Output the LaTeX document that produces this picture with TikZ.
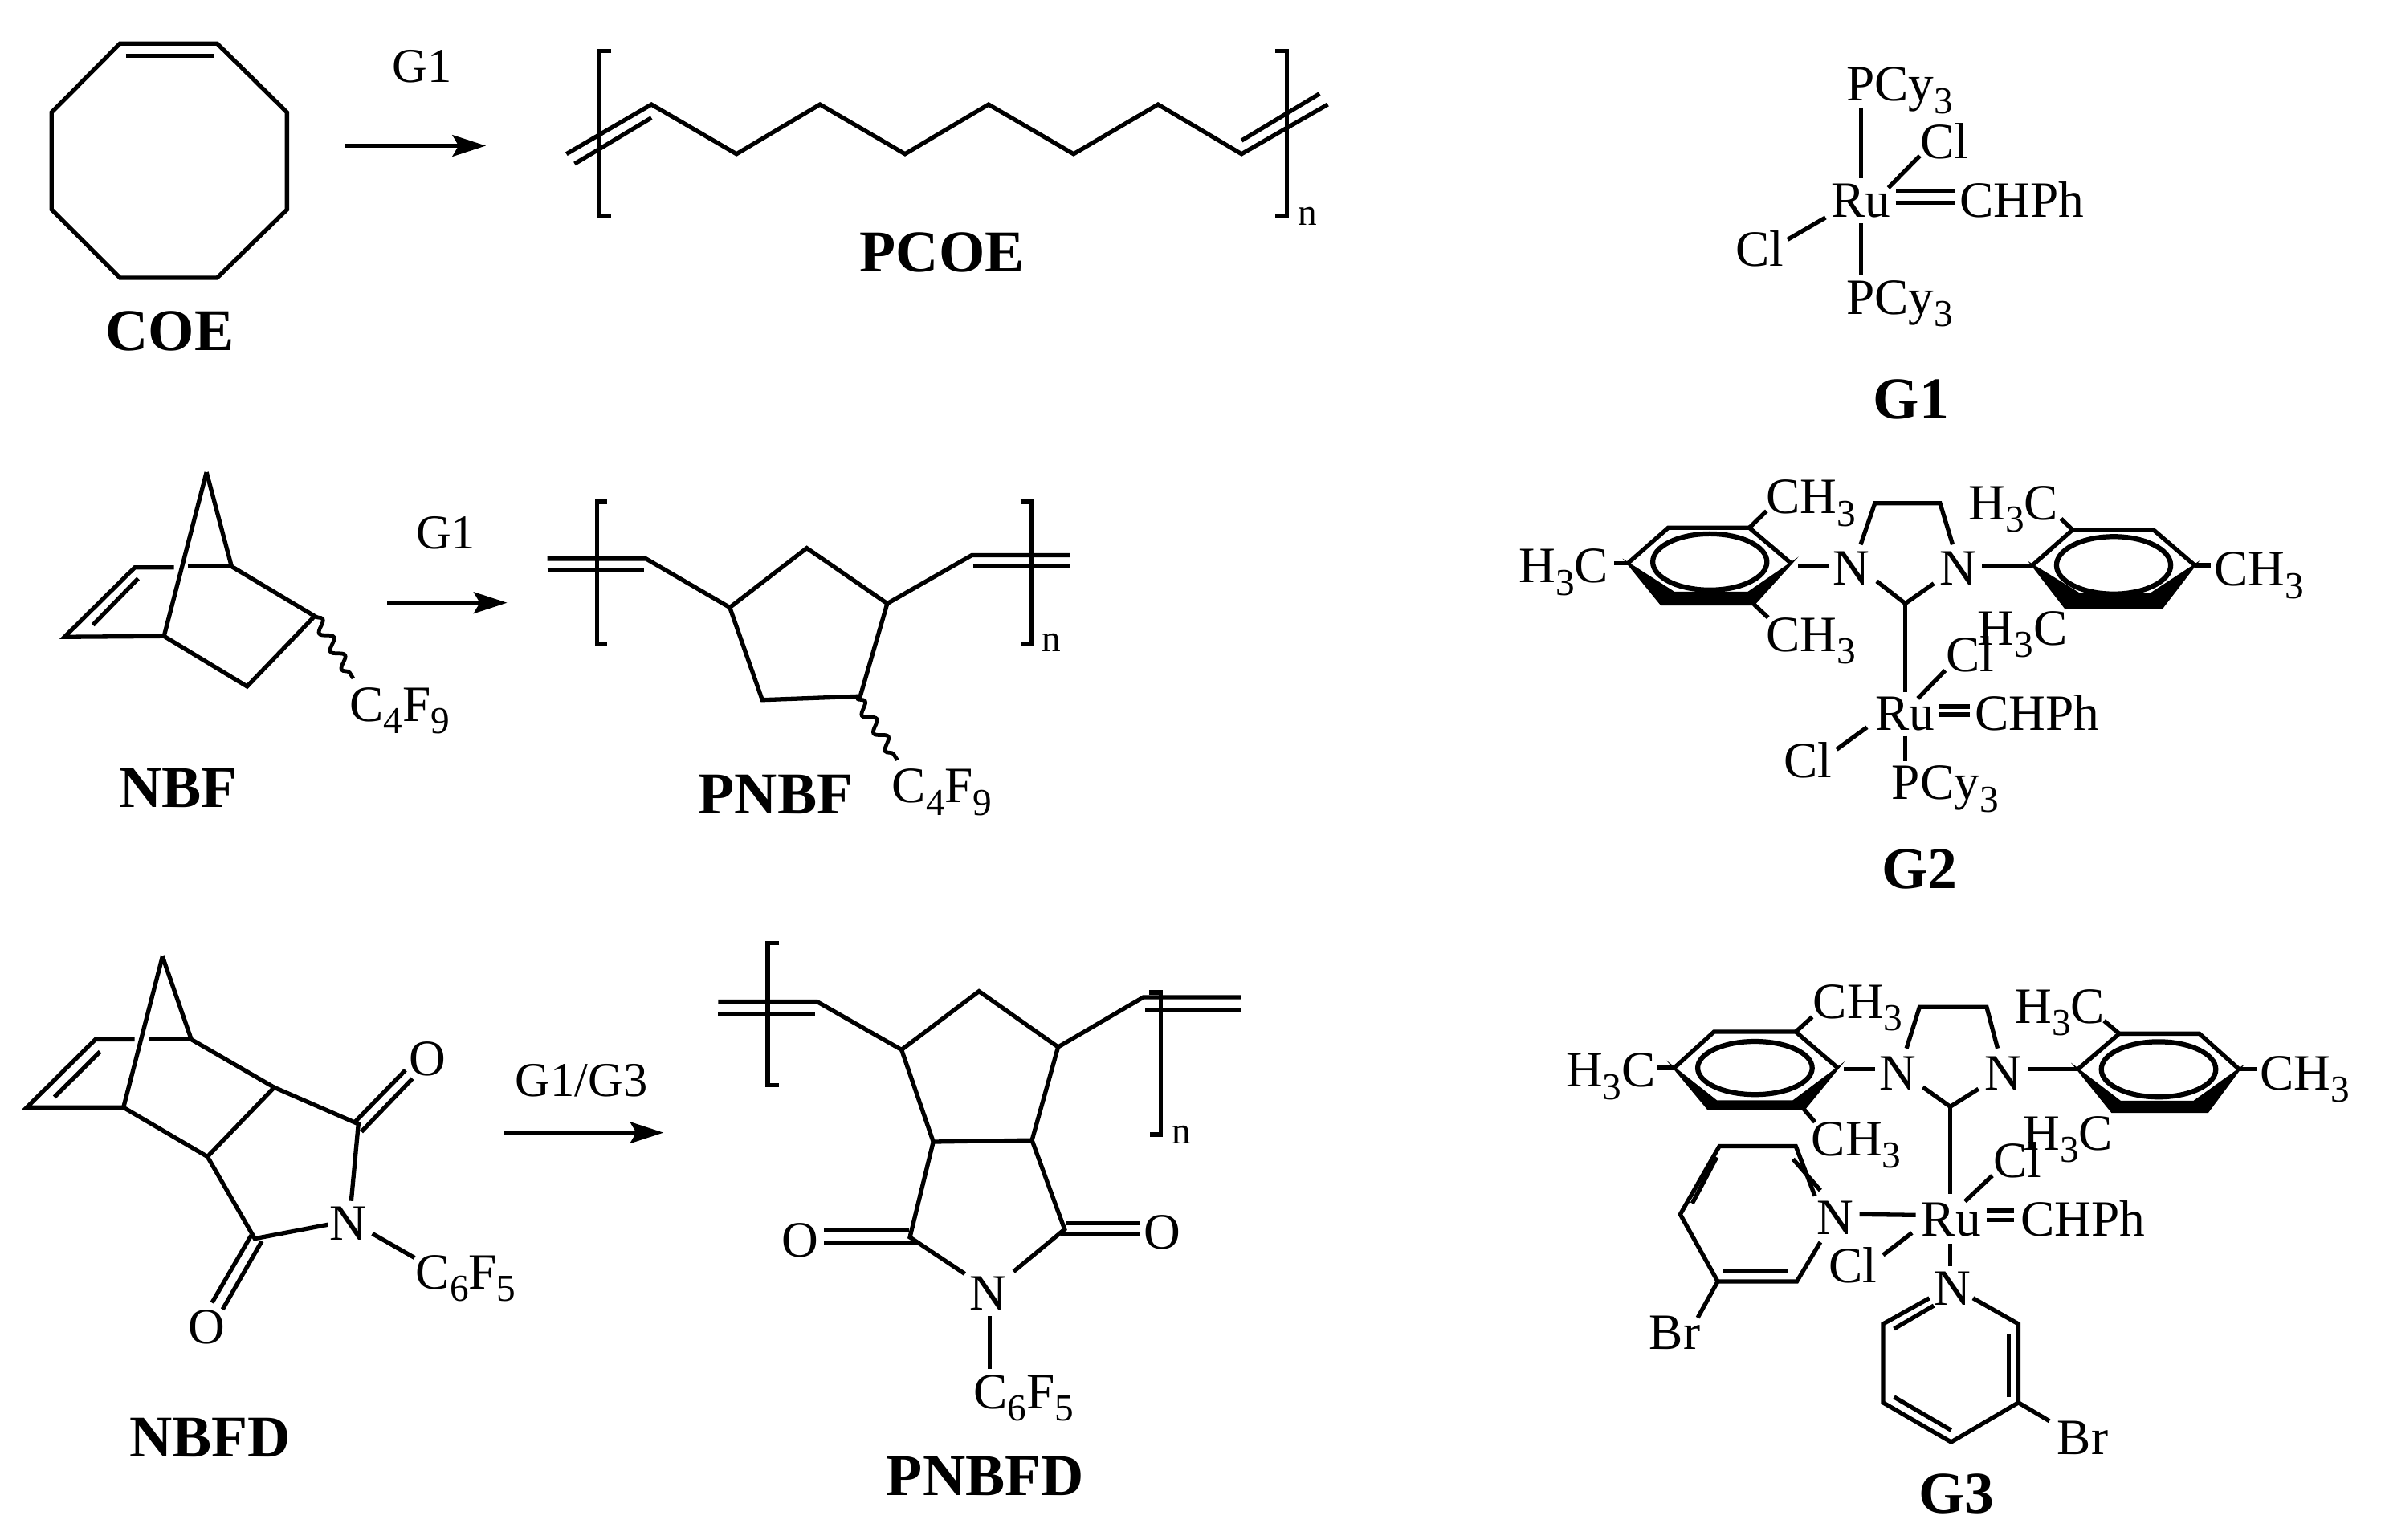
\documentclass[tikz,border=0pt]{standalone}
\usepackage{fontspec}
\setmainfont{Liberation Serif}
\usetikzlibrary{arrows.meta,decorations.pathmorphing}
\newcommand\subs[1]{\raisebox{-8pt}{\fontsize{25}{25}\selectfont #1}}
\tikzset{
  bond/.style={line width=2.8pt,line join=miter,line cap=butt},
  brk/.style={line width=2.8pt,line join=miter},
  atom/.style={inner sep=0pt,anchor=base,font=\fontsize{33.5}{33.5}\selectfont},
  agent/.style={inner sep=0pt,anchor=base,font=\fontsize{32}{32}\selectfont},
  title/.style={inner sep=0pt,anchor=base,font=\fontsize{39}{39}\selectfont\bfseries},
  sub-n/.style={inner sep=0pt,anchor=base,font=\fontsize{25}{25}\selectfont},
  rxn/.style={line width=2.8pt,-{Stealth[length=22pt,width=14pt,inset=4pt]}},
  wave/.style={line width=2.5pt,decorate,decoration={snake,segment length=14pt,amplitude=3.5pt}},
  arene/.style={line width=3.3pt,fill=white,draw=black},
  shade/.style={fill=black,draw=black,line width=1.5pt,line join=miter}
}
\begin{document}
\begin{tikzpicture}[x=1pt,y=-1pt]
\useasboundingbox (0,0) rectangle (1568,1013.8);
% ---------- COE
\draw[bond] (79,28.7)--(143,28.7)--(189,74)--(189,138)--(143,183)--(79,183)--(34,138)--(34,74)--cycle;
\draw[bond] (83,36.7)--(140.5,36.7);
\node[title] (coe) at (111.8,231) {COE};
\coordinate (a1s) at (227.6,96); \coordinate (a1e) at (320,96);
\draw[rxn] (a1s)--(a1e);
\node[agent] (g1a) at (278,54.3) {G1};
% ---------- PCOE
\draw[brk] (402.5,33.5)--(394.5,33.5)--(394.5,142.5)--(402.5,142.5);
\draw[brk] (840,33.5)--(847.5,33.5)--(847.5,142.5)--(840,142.5);
\node[sub-n] (n1) at (861,148.1) {n};
\draw[bond] (373,101.4)--(429,68.8)--(485,101.4)--(540,68.8)--(596,101.4)--(651,68.8)--(707,101.4)--(762.6,68.8)--(817.6,101.4)--(874.4,68.8);
\draw[bond] (378.4,107.9)--(429,77.6);
\draw[bond] (817.6,92.6)--(869,61.7);
\node[title] (pcoe) at (620.5,179) {PCOE};
% ---------- NBF
\draw[bond] (136,311)--(108,419)--(42.5,419.5)--(88.8,373.7)--(114.6,373.7);
\draw[bond] (123.5,373.1)--(152.5,373.1);
\draw[bond] (136,311)--(152.5,373.1)--(207.2,405.8)--(162.7,452.1)--(108,419);
\draw[bond] (91,381)--(61.2,411.6);
\draw[wave] (207.2,405.8)--(232.6,446.8);
\node[atom] (c4f9a) at (263.3,475) {C\subs{4}F\subs{9}};
\node[title] (nbf) at (117.3,532) {NBF};
\coordinate (a2s) at (255,397); \coordinate (a2e) at (334,397);
\draw[rxn] (a2s)--(a2e);
\node[agent] (g1b) at (293.6,361.3) {G1};
% ---------- PNBF
\draw[brk] (399.6,330.5)--(393,330.5)--(393,424)--(399.6,424);
\draw[brk] (672,330.5)--(679,330.5)--(679,424)--(672,424);
\node[sub-n] (n2) at (692.5,429.2) {n};
\draw[bond] (360.4,368)--(425.4,368)--(480.6,400.1)--(531.3,361)--(584.3,397.5)--(640,365.7)--(704.5,365.7);
\draw[bond] (360.4,375.8)--(424,375.8);
\draw[bond] (640.9,373.1)--(704.5,373.1);
\draw[bond] (480.6,400.1)--(502,461)--(566.5,458.6)--(584.3,397.5);
\draw[wave] (564.3,460)--(591,500.6);
\node[atom] (c4f9b) at (620.4,528.8) {C\subs{4}F\subs{9}};
\node[title] (pnbf) at (510.9,535.9) {PNBF};
% ---------- NBFD
\draw[bond] (107,630)--(81.3,729.4)--(17.6,729.4)--(62.8,684.6)--(88.6,684.6);
\draw[bond] (98.6,684.6)--(126,684.6);
\draw[bond] (107,630)--(126,684.6)--(180.6,716.2)--(236,740.3)--(231.3,791);
\draw[bond] (65.9,692.7)--(35.8,722.6);
\draw[bond] (81.3,729.4)--(136.6,761.8)--(180.6,716.2);
\draw[bond] (136.6,761.8)--(167.8,815.8)--(216,806.6);
\draw[bond] (233.7,739)--(267,704.8);
\draw[bond] (238,745.4)--(271.6,710.4);
\draw[bond] (165.4,813.7)--(139.6,858);
\draw[bond] (172.4,817.5)--(146.6,862.4);
\draw[bond] (245.2,812.5)--(273,828.4);
\node[atom] (nd1) at (229,817) {N};
\node[atom] (od1) at (281.6,708.6) {O};
\node[atom] (od2) at (136,885.2) {O};
\node[atom] (c6a) at (306.8,849.2) {C\subs{6}F\subs{5}};
\node[title] (nbfd) at (138.4,959.4) {NBFD};
\coordinate (a3s) at (331.4,746); \coordinate (a3e) at (437,746);
\draw[rxn] (a3s)--(a3e);
\node[agent] (g13) at (383,722) {G1/G3};
% ---------- PNBFD
\draw[brk] (513.2,621.2)--(505.6,621.2)--(505.6,714.8)--(513.2,714.8);
\draw[brk] (757,653.7)--(764.4,653.7)--(764.4,747.3)--(757.5,747.3);
\node[sub-n] (n3) at (778.3,753.3) {n};
\draw[bond] (473,659.7)--(538,659.7)--(593.7,691.4)--(644.7,652.9)--(696.8,689.6)--(753,656.8)--(817.5,656.8);
\draw[bond] (473,667.5)--(536.7,667.5);
\draw[bond] (754.2,664.9)--(817.5,664.9);
\draw[bond] (593.7,691.4)--(614.6,752)--(679.6,751)--(696.8,689.6);
\draw[bond] (635.4,839)--(599.2,814.9)--(614.6,752);
\draw[bond] (667.5,837.5)--(701.1,809.7)--(679.6,751);
\draw[bond] (651.8,867)--(651.8,901.5);
\draw[bond] (542.6,810.5)--(598.7,810.5);
\draw[bond] (542.6,818.8)--(603.8,818.8);
\draw[bond] (702.4,805.8)--(750.5,805.8);
\draw[bond] (698.6,813)--(750.5,813);
\node[atom] (npd) at (650.6,863) {N};
\node[atom] (opd1) at (527.1,827.9) {O};
\node[atom] (opd2) at (765.6,822.7) {O};
\node[atom] (c6b) at (674.1,928) {C\subs{6}F\subs{5}};
\node[title] (pnbfd) at (648.8,985.2) {PNBFD};
% ---------- G1 catalyst
\draw[bond] (1225.7,70.8)--(1225.7,117.6);
\draw[bond] (1243.6,123.7)--(1264.3,102.6);
\draw[bond] (1248.4,125.5)--(1287.2,125.5);
\draw[bond] (1248.4,133.6)--(1287.2,133.6);
\draw[bond] (1202.2,143.3)--(1177.2,157.8);
\draw[bond] (1225.7,147.2)--(1225.7,181.6);
\node[atom] (p1) at (1251,66.6) {PCy\subs{3}};
\node[atom] (ru1) at (1225.5,143.1) {Ru};
\node[atom] (cl1) at (1280.5,104.3) {Cl};
\node[atom] (chph1) at (1331.5,143.1) {CHPh};
\node[atom] (cl2) at (1158.8,175.4) {Cl};
\node[atom] (p2) at (1251,207.1) {PCy\subs{3}};
\node[title] (lg1) at (1258.5,275.9) {G1};
% ---------- G2 catalyst
\filldraw[shade] (1072,371)--(1094,398)--(1155,398)--(1179.5,371)--(1151.3,390.4)--(1102.4,390.4)--cycle;
\draw[bond] (1072,371)--(1098.6,347.6)--(1152,347.6)--(1179.5,371);
\draw[arene] (1126,370.1) ellipse [x radius=37.6,y radius=18.5];
\filldraw[shade] (1338.5,372.3)--(1360,400.1)--(1423.9,400.1)--(1445.3,372.3)--(1416.3,391.3)--(1369.4,391.3)--cycle;
\draw[bond] (1338.5,372.3)--(1364.8,349)--(1418.2,349)--(1445.3,372.3);
\draw[arene] (1391.9,372.3) ellipse [x radius=37.6,y radius=18.9];
\draw[bond] (1152,347.6)--(1163.3,336.6);
\draw[bond] (1155,398)--(1164.4,406.8);
\draw[bond] (1063,371)--(1072,371);
\draw[bond] (1184.3,372.6)--(1204.6,372.6);
\draw[bond] (1225.3,358.7)--(1234.7,331.4)--(1277.6,331.4)--(1285.9,358.7);
\draw[bond] (1235.9,382.8)--(1254.7,397.5)--(1273.5,384.3);
\draw[bond] (1254.7,397.5)--(1254.7,455.7);
\draw[bond] (1305.4,372.6)--(1338.5,372.6);
\draw[bond] (1364.8,349)--(1357.3,341.6);
\draw[bond] (1445.3,372.3)--(1455.8,372.3);
\draw[bond] (1277,465.4)--(1297,465.4);
\draw[bond] (1277,470.6)--(1297,470.6);
\draw[bond] (1263,460)--(1281,441.6);
\draw[bond] (1229.5,479)--(1209.5,493.6);
\draw[bond] (1254.7,484.7)--(1254.7,501.5);
\node[atom] (g2a) at (1029.8,383.9) {H\subs{3}C};
\node[atom] (g2b) at (1192.6,338.4) {CH\subs{3}};
\node[atom] (g2c) at (1192.6,429.2) {CH\subs{3}};
\node[atom] (g2n1) at (1219,385.1) {N};
\node[atom] (g2n2) at (1289.6,385.1) {N};
\node[atom] (g2d) at (1326,342.3) {H\subs{3}C};
\node[atom] (g2e) at (1332,424.8) {H\subs{3}C};
\node[atom] (g2f) at (1487.8,386) {CH\subs{3}};
\node[atom] (g2cl1) at (1297.5,442.4) {Cl};
\node[atom] (g2ru) at (1254.7,480.9) {Ru};
\node[atom] (g2ch) at (1341.5,480.9) {CHPh};
\node[atom] (g2cl2) at (1190.7,512) {Cl};
\node[atom] (g2p) at (1281,526.7) {PCy\subs{3}};
\node[title] (lg2) at (1264,585) {G2};
% ---------- G3 catalyst
\filldraw[shade] (1102.5,703.4)--(1125.1,730.6)--(1188,730.6)--(1210.3,703.4)--(1180.8,725.5)--(1130.5,725.5)--cycle;
\draw[bond] (1102.5,703.4)--(1128.7,679.6)--(1182.6,679.6)--(1210.3,703.4);
\draw[arene] (1155.7,703.4) ellipse [x radius=37.7,y radius=17.5];
\filldraw[shade] (1368.3,704.3)--(1390.9,732.3)--(1453.8,732.3)--(1474.6,704.3)--(1444.8,725.7)--(1396.3,725.7)--cycle;
\draw[bond] (1368.3,704.3)--(1395.6,680.8)--(1448.4,680.8)--(1474.6,704.3);
\draw[arene] (1421.5,704.3) ellipse [x radius=37.7,y radius=18.2];
\draw[bond] (1182.6,679.6)--(1193.4,669.8);
\draw[bond] (1188,730.6)--(1195.2,739.1);
\draw[bond] (1091,703.4)--(1102.5,703.4);
\draw[bond] (1214.2,704.3)--(1234.7,704.3);
\draw[bond] (1255.5,690.5)--(1264.1,663.3)--(1308.3,663.3)--(1315.5,690.5);
\draw[bond] (1266.3,716)--(1284.3,728.9)--(1302.9,717.2);
\draw[bond] (1284.3,728.9)--(1284.3,786.5);
\draw[bond] (1308.3,797.4)--(1326.3,797.4);
\draw[bond] (1308.3,803.5)--(1326.3,803.5);
\draw[bond] (1294,791.3)--(1312,774.3);
\draw[bond] (1395.6,680.8)--(1385.6,672.3);
\draw[bond] (1474.6,704.3)--(1486.1,704.3);
\draw[bond] (1335.3,704.3)--(1368.3,704.3);
% left pyridine
\draw[bond] (1224.6,799.8)--(1261.6,800.3);
\draw[bond] (1195.2,787.7)--(1182.6,754.9)--(1132.3,754.9)--(1106.5,799.8)--(1131.2,844)--(1183.3,844)--(1198.8,818.1);
\draw[bond] (1180.8,763.4)--(1198.8,784);
\draw[bond] (1130.5,762.2)--(1114.4,792.6);
\draw[bond] (1134.1,836.8)--(1177.2,836.8);
\draw[bond] (1131.2,844)--(1118,867.9);
\draw[bond] (1259.1,812)--(1240.1,826.6);
% lower pyridine
\draw[bond] (1284.3,819.3)--(1284.3,833.9);
\draw[bond] (1270.6,855)--(1240.1,872)--(1240.1,923.8)--(1284.9,949.8)--(1329.2,923.8)--(1329.2,872)--(1299.3,855);
\draw[bond] (1273.5,859.9)--(1247.3,875.2);
\draw[bond] (1322.7,878.8)--(1322.7,920.1);
\draw[bond] (1247.3,920.1)--(1284.9,942);
\draw[bond] (1329.2,923.8)--(1349.6,935.9);
\node[atom] (g3a) at (1060.8,716) {H\subs{3}C};
\node[atom] (g3b) at (1223.6,671) {CH\subs{3}};
\node[atom] (g3c) at (1222.5,761) {CH\subs{3}};
\node[atom] (g3n1) at (1249.8,717.9) {N};
\node[atom] (g3n2) at (1319.1,717.9) {N};
\node[atom] (g3d) at (1356.5,674) {H\subs{3}C};
\node[atom] (g3e) at (1361.8,757.3) {H\subs{3}C};
\node[atom] (g3f) at (1517.7,717.7) {CH\subs{3}};
\node[atom] (g3cl1) at (1328.4,775.5) {Cl};
\node[atom] (g3ru) at (1285,814) {Ru};
\node[atom] (g3ch) at (1371.7,814) {CHPh};
\node[atom] (g3n3) at (1208.5,813.2) {N};
\node[atom] (g3cl2) at (1220,844.8) {Cl};
\node[atom] (g3n4) at (1285.7,859.4) {N};
\node[atom] (g3br1) at (1102.9,888.5) {Br};
\node[atom] (g3br2) at (1371.5,957.8) {Br};
\node[title] (lg3) at (1288.6,996.7) {G3};
\end{tikzpicture}
\end{document}
